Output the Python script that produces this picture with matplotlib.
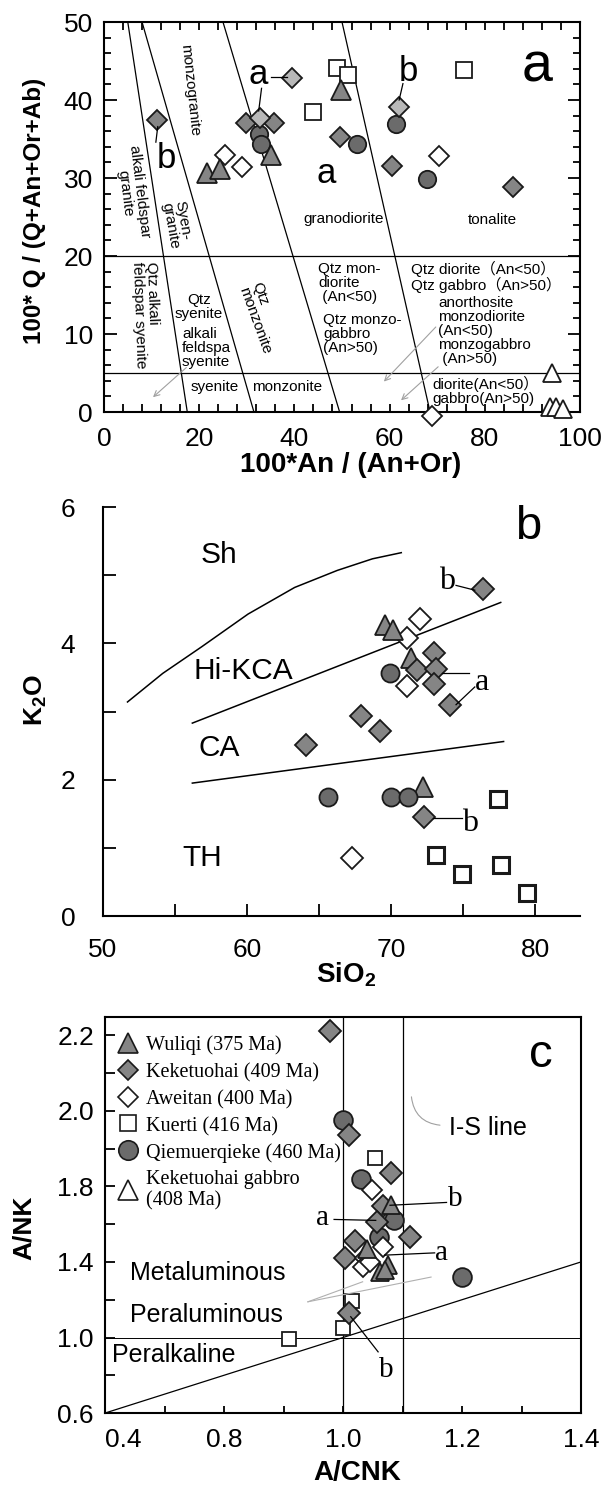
import numpy as np
import matplotlib
matplotlib.use("Agg")
import matplotlib.pyplot as plt
from matplotlib.ticker import FixedLocator, MultipleLocator

plt.rcParams['font.family'] = ['Liberation Sans', 'Noto Sans CJK SC', 'DejaVu Sans']
plt.rcParams['mathtext.fontset'] = 'custom'
plt.rcParams['mathtext.rm'] = 'Liberation Sans'
plt.rcParams['mathtext.bf'] = 'Liberation Sans:bold'
SERIF = 'Liberation Serif'

# ---------------- panel a : Q vs An/(An+Or) ----------------
a_wuliqi_x = [49.8, 35.1, 21.7, 24.4]
a_wuliqi_y = [41.3, 33.0, 30.6, 31.2]
a_keke_x = [11.1, 29.9, 35.8, 49.6, 60.4, 86.0]
a_keke_y = [37.4, 37.1, 37.1, 35.3, 31.6, 28.8]
a_keke_ab_x = [39.6, 32.7, 62.0]
a_keke_ab_y = [42.8, 37.7, 39.1]
a_aweitan_x = [25.5, 28.9, 70.4, 68.8]
a_aweitan_y = [33.0, 31.4, 32.8, -0.5]
a_kuerti_x = [49.0, 51.2, 44.0, 75.7]
a_kuerti_y = [44.1, 43.2, 38.5, 43.8]
a_qiemu_x = [32.5, 32.9, 53.2, 61.4, 67.9]
a_qiemu_y = [35.7, 34.4, 34.4, 36.9, 29.9]
a_gabbro_x = [94.2, 93.6, 95.0, 96.4]
a_gabbro_y = [5.0, 0.6, 0.6, 0.4]

# field boundaries: x at Q=50 and at Q=0
a_bound_top = [5.0, 8.0, 25.0, 50.0]
a_bound_bot = [17.5, 31.5, 49.5, 68.5]
a_hlines = [20, 5]

# ---------------- panel b : K2O vs SiO2 ----------------
b_wuliqi_x = [69.6, 70.1, 71.4, 72.2]
b_wuliqi_y = [4.27, 4.20, 3.78, 1.89]
b_keke_x = [76.4, 73.0, 71.8, 73.1, 73.0, 74.1, 67.9, 69.2, 64.1, 72.3]
b_keke_y = [4.79, 3.86, 3.61, 3.62, 3.41, 3.09, 2.93, 2.72, 2.51, 1.46]
b_aweitan_x = [72.0, 71.1, 71.1, 67.3]
b_aweitan_y = [4.36, 4.08, 3.37, 0.85]
b_kuerti_x = [77.4, 73.1, 74.9, 77.6, 79.4]
b_kuerti_y = [1.72, 0.90, 0.62, 0.75, 0.34]
b_qiemu_x = [69.9, 65.6, 70.0, 71.2]
b_qiemu_y = [3.56, 1.75, 1.75, 1.75]

b_sh_x = [51.7, 54.15, 56.85, 60.07, 63.3, 66.26, 68.7, 70.7]
b_sh_y = [3.14, 3.56, 3.95, 4.43, 4.82, 5.07, 5.24, 5.33]
b_hk_x = [56.2, 77.6]
b_hk_y = [2.83, 4.60]
b_ca_x = [56.2, 77.8]
b_ca_y = [1.95, 2.56]

# ---------------- panel c : A/NK vs A/CNK ----------------
c_wuliqi_x = [1.080, 1.040, 1.076, 1.062, 1.070]
c_wuliqi_y = [1.70, 1.47, 1.385, 1.348, 1.357]
c_keke_x = [0.978, 1.010, 1.080, 1.068, 1.057, 1.112, 1.020, 1.003, 1.010]
c_keke_y = [2.21, 1.935, 1.835, 1.695, 1.61, 1.53, 1.51, 1.42, 1.13]
c_aweitan_x = [1.048, 1.068, 1.037, 1.034, 1.045]
c_aweitan_y = [1.78, 1.48, 1.42, 1.375, 1.40]
c_kuerti_x = [1.054, 1.015, 1.000, 0.909]
c_kuerti_y = [1.875, 1.195, 1.05, 0.99]
c_qiemu_x = [1.000, 1.031, 1.086, 1.060, 1.200]
c_qiemu_y = [1.975, 1.82, 1.62, 1.53, 1.32]

# the A/NK axis of the original is not evenly graduated
c_ylab_vals = [0.6, 1.0, 1.4, 1.8, 2.0, 2.2, 2.4]
c_ylab_pos = [0, 1, 2, 3, 4, 5, 6]
c_xticks = [0.6, 0.8, 1.0, 1.2, 1.4]
c_xticklabels = ['0.4', '0.8', '1.0', '1.2', '1.4']
c_yticks = [0.6, 1.0, 1.4, 1.8, 2.0, 2.2]
c_yminor = [0.8, 1.2, 1.6, 1.9, 2.1]

legend_names = ['Wuliqi (375 Ma)', 'Keketuohai (409 Ma)', 'Aweitan (400 Ma)',
                'Kuerti (416 Ma)', 'Qiemuerqieke (460 Ma)',
                'Keketuohai gabbro\n(408 Ma)']

GRAY = '#858585'
DARK = '#6b6b6b'
STYLES = {
    'wuliqi': dict(marker='^', mfc=GRAY, ms=14),
    'keke': dict(marker='D', mfc=GRAY, ms=10.5),
    'keke_ab': dict(marker='D', mfc='#b8b8b8', ms=10.5),
    'aweitan': dict(marker='D', mfc='white', ms=10.5),
    'kuerti': dict(marker='s', mfc='white', ms=11),
    'qiemu': dict(marker='o', mfc=DARK, ms=12.5),
    'gabbro': dict(marker='^', mfc='white', ms=13),
}
LEG_MS = {'wuliqi': 14, 'keke': 10.5, 'aweitan': 10.5, 'kuerti': 11,
          'qiemu': 14, 'gabbro': 14}


def pts(ax, xs, ys, key, **kw):
    st = dict(mec='#1a1a1a', mew=1.3)
    st.update(STYLES[key])
    st.update(kw)
    return ax.plot(xs, ys, ls='none', clip_on=False, zorder=5, **st)[0]


def leader(ax, p0, p1, color='black', lw=0.9):
    ax.plot([p0[0], p1[0]], [p0[1], p1[1]], color=color, lw=lw, zorder=6,
            clip_on=False)


fig = plt.figure(figsize=(6.08, 14.89), dpi=100)
TICK = 19

# ======================= panel a =======================
axa = fig.add_axes([0.171, 0.7233, 0.783, 0.2619])
for t, b in zip(a_bound_top, a_bound_bot):
    axa.plot([t, b], [50, 0], color='black', lw=0.9, zorder=2)
for h in a_hlines:
    axa.axhline(h, color='black', lw=0.9, zorder=2)

small = 11
axa.text(6.0, 28.2, 'alkali feldspar\ngranite', rotation=-83, fontsize=small,
         ha='center', va='center', multialignment='center', linespacing=1.0)
axa.text(15.3, 24.0, 'Syen-\ngranite', rotation=-80, fontsize=small,
         ha='center', va='center', multialignment='left', linespacing=1.0)
axa.text(18.1, 41.3, 'monzogranite', rotation=-84, fontsize=small,
         ha='center', va='center')
axa.text(8.7, 12.4, 'Qtz alkali\nfeldspar syenite', rotation=-88,
         fontsize=small, ha='center', va='center', multialignment='left',
         linespacing=1.0)
axa.text(33.1, 12.0, 'Qtz\nmonzonite', rotation=-70, fontsize=small,
         ha='center', va='center', multialignment='left', linespacing=1.0)
axa.text(19.9, 13.5, 'Qtz\nsyenite', fontsize=small, ha='center', va='center',
         linespacing=1.0)
axa.text(16.4, 8.2, 'alkali\nfeldspa\nsyenite', fontsize=small, ha='left',
         va='center', linespacing=1.0)
axa.text(18.1, 3.2, 'syenite', fontsize=small, ha='left', va='center')
axa.text(31.1, 3.2, 'monzonite', fontsize=small, ha='left', va='center')
axa.text(45.0, 16.5, 'Qtz mon-\ndiorite\n (An<50)', fontsize=small,
         ha='left', va='center', linespacing=1.0)
axa.text(46.1, 10.0, 'Qtz monzo-\ngabbro\n(An>50)', fontsize=small,
         ha='left', va='center', linespacing=1.0)
axa.text(64.5, 17.3, 'Qtz diorite（An<50）\nQtz gabbro（An>50）',
         fontsize=small, ha='left', va='center', linespacing=1.0)
axa.text(70.2, 10.4, 'anorthosite\nmonzodiorite\n(An<50)\nmonzogabbro\n (An>50)',
         fontsize=small, ha='left', va='center', linespacing=1.0)
axa.text(69.0, 2.75, 'diorite(An<50）\ngabbro(An>50)', fontsize=small,
         ha='left', va='center', linespacing=1.0)
axa.text(50.4, 24.8, 'granodiorite', fontsize=small, ha='center', va='center')
axa.text(81.5, 24.6, 'tonalite', fontsize=small, ha='center', va='center')

arrow = dict(arrowstyle='->', color='#a0a0a0', lw=0.8, shrinkA=0, shrinkB=0)
axa.annotate('', xy=(10.3, 1.9), xytext=(17.3, 5.7), arrowprops=arrow)
axa.annotate('', xy=(58.8, 3.9), xytext=(69.7, 10.9), arrowprops=arrow)
axa.annotate('', xy=(62.4, 1.5), xytext=(70.2, 5.8), arrowprops=arrow)

pts(axa, a_kuerti_x, a_kuerti_y, 'kuerti')
pts(axa, a_aweitan_x, a_aweitan_y, 'aweitan')
pts(axa, a_keke_x, a_keke_y, 'keke')
pts(axa, a_qiemu_x, a_qiemu_y, 'qiemu')
pts(axa, a_keke_ab_x, a_keke_ab_y, 'keke_ab')
pts(axa, a_wuliqi_x, a_wuliqi_y, 'wuliqi')
pts(axa, a_gabbro_x, a_gabbro_y, 'gabbro')

lab = 25
axa.text(32.3, 43.3, 'a', fontsize=lab, ha='center', va='center')
leader(axa, (35.1, 42.9), (38.4, 42.9))
leader(axa, (33.1, 41.5), (32.5, 38.6))
axa.text(64.0, 43.6, 'b', fontsize=lab, ha='center', va='center')
leader(axa, (62.8, 42.1), (62.0, 40.0))
axa.text(13.2, 32.5, 'b', fontsize=lab, ha='center', va='center')
leader(axa, (11.3, 36.6), (10.9, 34.6))
axa.text(46.6, 30.6, 'a', fontsize=lab, ha='center', va='center')
axa.text(91.0, 44.2, 'a', fontsize=40, ha='center', va='center')

axa.set_xlim(0, 100)
axa.set_ylim(0, 50)
axa.xaxis.set_major_locator(FixedLocator([0, 20, 40, 60, 80, 100]))
axa.xaxis.set_minor_locator(MultipleLocator(4))
axa.yaxis.set_major_locator(MultipleLocator(10))
axa.yaxis.set_minor_locator(MultipleLocator(2))
axa.tick_params(which='both', direction='in', top=True, right=True,
                width=1.3, labelsize=TICK)
axa.tick_params(axis='x', which='both', length=6, pad=11)
axa.tick_params(axis='y', which='major', length=9, pad=8)
axa.tick_params(axis='y', which='minor', length=5)
for s in axa.spines.values():
    s.set_linewidth(1.5)
axa.set_xlabel('100*An / (An+Or)', fontsize=20, fontweight='bold')
axa.set_ylabel('100* Q / (Q+An+Or+Ab)', fontsize=17.5, fontweight='bold')
axa.xaxis.set_label_coords(0.519, -0.136)
axa.xaxis.label.set_va('center')
axa.yaxis.set_label_coords(-0.145, 0.515)
axa.yaxis.label.set_va('center')

# ======================= panel b =======================
axb = fig.add_axes([0.1694, 0.3848, 0.7845, 0.2747])
axb.plot(b_sh_x, b_sh_y, color='black', lw=1.1, zorder=2)
axb.plot(b_hk_x, b_hk_y, color='black', lw=1.1, zorder=2)
axb.plot(b_ca_x, b_ca_y, color='black', lw=1.1, zorder=2)
big = 21.5
axb.text(56.8, 5.3, 'Sh', fontsize=big, ha='left', va='center')
axb.text(56.3, 3.6, 'Hi-KCA', fontsize=big, ha='left', va='center')
axb.text(56.6, 2.46, 'CA', fontsize=big, ha='left', va='center')
axb.text(55.5, 0.85, 'TH', fontsize=big, ha='left', va='center')
axb.text(79.5, 5.7, 'b', fontsize=34, ha='center', va='center')

pts(axb, b_kuerti_x, b_kuerti_y, 'kuerti', mew=2.2, ms=11.5)
pts(axb, b_aweitan_x, b_aweitan_y, 'aweitan', ms=11)
pts(axb, b_wuliqi_x, b_wuliqi_y, 'wuliqi', ms=15)
pts(axb, b_keke_x, b_keke_y, 'keke', ms=11.5)
pts(axb, b_qiemu_x, b_qiemu_y, 'qiemu', ms=13)

slab = 23
axb.text(73.9, 4.9, 'b', fontsize=slab, family=SERIF, ha='center', va='center')
leader(axb, (74.5, 4.85), (75.8, 4.78))
axb.text(76.3, 3.43, 'a', fontsize=slab, family=SERIF, ha='center', va='center')
leader(axb, (73.5, 3.57), (75.4, 3.57))
leader(axb, (74.5, 3.10), (75.8, 3.36))
axb.text(75.5, 1.36, 'b', fontsize=slab, family=SERIF, ha='center', va='center')
leader(axb, (72.9, 1.44), (74.9, 1.44))

axb.set_xlim(50, 83.1)
axb.set_ylim(0, 6)
axb.spines['top'].set_visible(False)
axb.spines['right'].set_visible(False)
for s in ('left', 'bottom'):
    axb.spines[s].set_linewidth(1.5)
axb.xaxis.set_major_locator(MultipleLocator(10))
axb.xaxis.set_minor_locator(MultipleLocator(5))
axb.yaxis.set_major_locator(MultipleLocator(2))
axb.yaxis.set_minor_locator(MultipleLocator(1))
axb.tick_params(which='both', direction='in', length=9, width=1.3,
                labelsize=TICK)
axb.tick_params(axis='y', pad=20)
axb.tick_params(axis='x', pad=16)
axb.set_xlabel(r'$\mathbf{SiO_2}$', fontsize=20)
axb.set_ylabel(r'$\mathbf{K_2O}$', fontsize=19)
axb.xaxis.set_label_coords(0.509, -0.144)
axb.xaxis.label.set_va('center')
axb.yaxis.set_label_coords(-0.14, 0.528)
axb.yaxis.label.set_va('center')

# ======================= panel c =======================
axc = fig.add_axes([0.1727, 0.0510, 0.7829, 0.2659])
fwd = lambda v: np.interp(v, c_ylab_vals, c_ylab_pos)
inv = lambda p: np.interp(p, c_ylab_pos, c_ylab_vals)
axc.set_yscale('function', functions=(fwd, inv))
axc.set_xlim(0.6, 1.4)
axc.set_ylim(0.6, 2.248)

axc.axvline(1.0, color='black', lw=0.9, zorder=2)
axc.axvline(1.1, color='black', lw=0.9, zorder=2)
axc.axhline(1.0, color='black', lw=0.7, zorder=2)
axc.plot([0.6, 1.4], [0.6, 1.4], color='black', lw=0.9, zorder=2)

mid = 18
axc.text(0.642, 1.34, 'Metaluminous', fontsize=mid, ha='left', va='center')
axc.text(0.642, 1.12, 'Peraluminous', fontsize=mid, ha='left', va='center')
axc.text(0.612, 0.907, 'Peralkaline', fontsize=mid, ha='left', va='center')
axc.text(1.244, 1.954, 'I-S line', fontsize=mid, ha='center', va='center')
axc.text(1.332, 2.148, 'c', fontsize=34, ha='center', va='center')
leader(axc, (0.941, 1.189), (1.033, 1.295), color='#b0b0b0', lw=0.8)
leader(axc, (0.941, 1.189), (1.148, 1.32), color='#b0b0b0', lw=0.8)
axc.annotate('', xy=(1.115, 2.037), xytext=(1.163, 1.962),
             arrowprops=dict(arrowstyle='-', color='#a0a0a0', lw=0.8,
                             shrinkA=0, shrinkB=0,
                             connectionstyle='arc3,rad=-0.4'))

pts(axc, c_kuerti_x, c_kuerti_y, 'kuerti', ms=9.5)
pts(axc, c_qiemu_x, c_qiemu_y, 'qiemu', ms=13.5)
pts(axc, c_keke_x, c_keke_y, 'keke', ms=11)
pts(axc, c_aweitan_x, c_aweitan_y, 'aweitan', ms=10.5)
pts(axc, c_wuliqi_x, c_wuliqi_y, 'wuliqi', ms=13)

clab = 21
axc.text(0.966, 1.63, 'a', fontsize=clab, family=SERIF, ha='center', va='center')
leader(axc, (0.985, 1.625), (1.055, 1.62))
axc.text(1.188, 1.735, 'b', fontsize=clab, family=SERIF, ha='center', va='center')
leader(axc, (1.174, 1.715), (1.079, 1.70))
axc.text(1.166, 1.445, 'a', fontsize=clab, family=SERIF, ha='center', va='center')
leader(axc, (1.154, 1.448), (1.07, 1.436))
axc.text(1.072, 0.828, 'b', fontsize=clab, family=SERIF, ha='center', va='center')
leader(axc, (1.059, 0.924), (1.013, 1.11))

handles = []
for key, name in zip(['wuliqi', 'keke', 'aweitan', 'kuerti', 'qiemu', 'gabbro'],
                     legend_names):
    st = dict(STYLES[key])
    st['ms'] = LEG_MS[key]
    h, = axc.plot([], [], ls='none', mec='#1a1a1a', mew=1.2, label=name, **st)
    handles.append(h)
axc.legend(handles=handles, loc='upper left', bbox_to_anchor=(0.025, 0.955),
           frameon=False, borderpad=0, borderaxespad=0, handlelength=1.1,
           handletextpad=0.35, labelspacing=0.33, handleheight=0.9,
           prop={'family': SERIF, 'size': 14.5})

axc.xaxis.set_major_locator(FixedLocator(c_xticks))
axc.xaxis.set_minor_locator(MultipleLocator(0.1))
axc.set_xticklabels(c_xticklabels)
axc.yaxis.set_major_locator(FixedLocator(c_yticks))
axc.yaxis.set_minor_locator(FixedLocator(c_yminor))
axc.set_yticklabels([f'{v:.1f}' for v in c_yticks])
axc.tick_params(which='both', direction='in', width=1.3, labelsize=TICK)
axc.tick_params(axis='y', which='both', length=7, pad=8)
axc.tick_params(axis='x', which='both', length=5, pad=11)
axc.get_xticklabels()[0].set_ha('left')
for s in axc.spines.values():
    s.set_linewidth(1.5)
axc.set_xlabel('A/CNK', fontsize=20, fontweight='bold')
axc.set_ylabel('A/NK', fontsize=19, fontweight='bold')
axc.xaxis.set_label_coords(0.529, -0.152)
axc.xaxis.label.set_va('center')
axc.yaxis.set_label_coords(-0.17, 0.467)
axc.yaxis.label.set_va('center')

fig.savefig('out.png', dpi=100)
